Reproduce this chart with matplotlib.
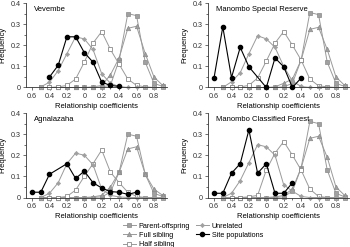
import numpy as np
import matplotlib
matplotlib.use("Agg")
import matplotlib.pyplot as plt
from matplotlib.ticker import MultipleLocator, FuncFormatter

plt.rcParams['font.family'] = ['Liberation Sans', 'DejaVu Sans']

# simulated relationship classes, x from -0.5 to 0.9
sim_x = [-0.5, -0.4, -0.3, -0.2, -0.1, 0.0, 0.1, 0.2, 0.3, 0.4, 0.5, 0.6, 0.7, 0.8, 0.9]

panel_names = ["Vevembe", "Manombo Special Reserve",
               "Agnalazaha", "Manombo Classified Forest"]

parent_offspring = [
    [0, 0, 0, 0, 0, 0, 0, 0.003, 0.01, 0.13, 0.35, 0.34, 0.12, 0.02, 0.005],
    [0, 0, 0, 0, 0, 0, 0, 0.003, 0.02, 0.13, 0.355, 0.345, 0.12, 0.02, 0.005],
    [0, 0, 0, 0, 0, 0, 0, 0.003, 0.025, 0.12, 0.30, 0.29, 0.11, 0.02, 0.005],
    [0, 0, 0, 0, 0, 0, 0, 0.003, 0.03, 0.14, 0.36, 0.35, 0.13, 0.02, 0.003],
]
full_sibling = [
    [0, 0, 0, 0, 0, 0, 0.003, 0.01, 0.06, 0.14, 0.28, 0.29, 0.16, 0.05, 0.01],
    [0, 0, 0, 0, 0, 0, 0.003, 0.02, 0.04, 0.13, 0.275, 0.285, 0.18, 0.05, 0.01],
    [0, 0, 0, 0, 0, 0, 0.003, 0.01, 0.05, 0.12, 0.23, 0.24, 0.11, 0.04, 0.01],
    [0, 0, 0, 0, 0, 0, 0.003, 0.01, 0.04, 0.14, 0.28, 0.29, 0.19, 0.05, 0.01],
]
half_sibling = [
    [0, 0, 0.003, 0.01, 0.04, 0.12, 0.21, 0.265, 0.18, 0.11, 0.04, 0.01, 0.003, 0, 0],
    [0, 0, 0.003, 0.01, 0.045, 0.125, 0.21, 0.265, 0.2, 0.13, 0.04, 0.008, 0.003, 0, 0],
    [0, 0, 0, 0.005, 0.035, 0.1, 0.16, 0.225, 0.12, 0.07, 0.025, 0.005, 0, 0, 0],
    [0, 0, 0, 0.003, 0.01, 0.13, 0.21, 0.265, 0.2, 0.13, 0.04, 0.005, 0, 0, 0],
]
unrelated = [
    [0.003, 0.025, 0.08, 0.16, 0.24, 0.23, 0.18, 0.065, 0.02, 0.005, 0, 0, 0, 0, 0],
    [0, 0.027, 0.07, 0.16, 0.245, 0.23, 0.19, 0.1, 0.03, 0.005, 0, 0, 0, 0, 0],
    [0, 0.02, 0.07, 0.16, 0.21, 0.2, 0.155, 0.04, 0.01, 0.003, 0, 0, 0, 0, 0],
    [0, 0.02, 0.08, 0.165, 0.25, 0.24, 0.2, 0.06, 0.03, 0.005, 0, 0, 0, 0, 0],
]

# observed site populations
site_x = [
    [-0.4, -0.3, -0.2, -0.1, 0.0, 0.1, 0.2, 0.3, 0.4],
    [-0.6, -0.5, -0.4, -0.3, -0.2, 0.0, 0.1, 0.2, 0.3, 0.4],
    [-0.6, -0.5, -0.4, -0.2, -0.1, 0.0, 0.1, 0.2, 0.3, 0.4, 0.5, 0.6],
    [-0.6, -0.5, -0.4, -0.3, -0.2, -0.1, 0.0, 0.1, 0.2, 0.3],
]
site_y = [
    [0.05, 0.105, 0.24, 0.24, 0.165, 0.12, 0.025, 0.01, 0.005],
    [0.047, 0.287, 0.047, 0.19, 0.098, 0.0, 0.14, 0.098, 0.0, 0.045],
    [0.025, 0.025, 0.11, 0.16, 0.09, 0.125, 0.07, 0.045, 0.028, 0.025, 0.015, 0.025],
    [0.02, 0.02, 0.115, 0.16, 0.32, 0.115, 0.16, 0.02, 0.02, 0.07],
]

W, H = 350, 247
fig = plt.figure(figsize=(W / 100, H / 100), dpi=100)

# axes boxes in pixels: left, y of zero, width, height
boxes = [(26, 87.5, 141, 84.5), (208, 87.5, 141, 84.5),
         (26, 197.5, 141, 84.5), (208, 197.5, 141, 84.5)]

grey = '#9a9a9a'
fs = 5.2

def no_minus(v, pos):
    # the reference prints the negative ticks without a sign
    return "%g" % abs(round(v, 2))

handles = None
for i, (l, y0, w, h) in enumerate(boxes):
    ax = fig.add_axes([l / W, 1 - y0 / H, w / W, h / H])
    ax.set_xlim(-0.67, 0.95)
    ax.set_ylim(0, 0.4)
    for s in ['top', 'right']:
        ax.spines[s].set_visible(False)
    for s in ['left', 'bottom']:
        ax.spines[s].set_linewidth(0.6)
        ax.spines[s].set_color('#333333')

    common = dict(lw=0.7, color=grey, clip_on=False, zorder=2)
    h1, = ax.plot(sim_x, parent_offspring[i], marker='s', ms=3,
                  mfc='#a0a0a0', mec='#8a8a8a', mew=0.5,
                  label='Parent-offspring', **common)
    h2, = ax.plot(sim_x, full_sibling[i], marker='^', ms=3.2,
                  mfc='#a0a0a0', mec='#8a8a8a', mew=0.5,
                  label='Full sibling', **common)
    h3, = ax.plot(sim_x, half_sibling[i], marker='s', ms=3.2,
                  mfc='white', mec='#8a8a8a', mew=0.6,
                  label='Half sibling', **common)
    h4, = ax.plot(sim_x, unrelated[i], marker='D', ms=2.2,
                  mfc='#a0a0a0', mec='#a0a0a0', mew=0.4,
                  label='Unrelated', **common)
    h5, = ax.plot(site_x[i], site_y[i], marker='o', ms=3,
                  color='black', lw=0.8, clip_on=False, zorder=3,
                  label='Site populations')
    handles = [h1, h2, h3, h4, h5]

    ax.xaxis.set_minor_locator(MultipleLocator(0.1))
    ax.set_xticks(np.arange(-0.6, 0.81, 0.2))
    ax.xaxis.set_major_formatter(FuncFormatter(no_minus))
    ax.yaxis.set_major_locator(MultipleLocator(0.1))
    ax.yaxis.set_minor_locator(MultipleLocator(0.05))
    ax.yaxis.set_major_formatter(FuncFormatter(lambda v, p: "%g" % round(v, 2)))
    ax.tick_params(which='both', direction='out', width=0.5, colors='#333333',
                   labelsize=fs, pad=1.5)
    ax.tick_params(which='major', length=2.5)
    ax.tick_params(which='minor', length=1.5)

    ax.set_xlabel('Relationship coefficients', fontsize=fs + 0.3, labelpad=2)
    ax.set_ylabel('Frequency', fontsize=fs + 0.3, labelpad=3)
    ax.text(0.06, 0.97, panel_names[i], transform=ax.transAxes,
            fontsize=fs + 0.3, va='top', ha='left')

fig.legend(handles=handles, loc='upper left',
           bbox_to_anchor=(119 / W, 1 - 219 / H), ncol=2, frameon=False,
           fontsize=fs, handlelength=1.8, handletextpad=0.4,
           columnspacing=0.8, labelspacing=0.3, borderpad=0)

fig.savefig('out.png', dpi=100)
